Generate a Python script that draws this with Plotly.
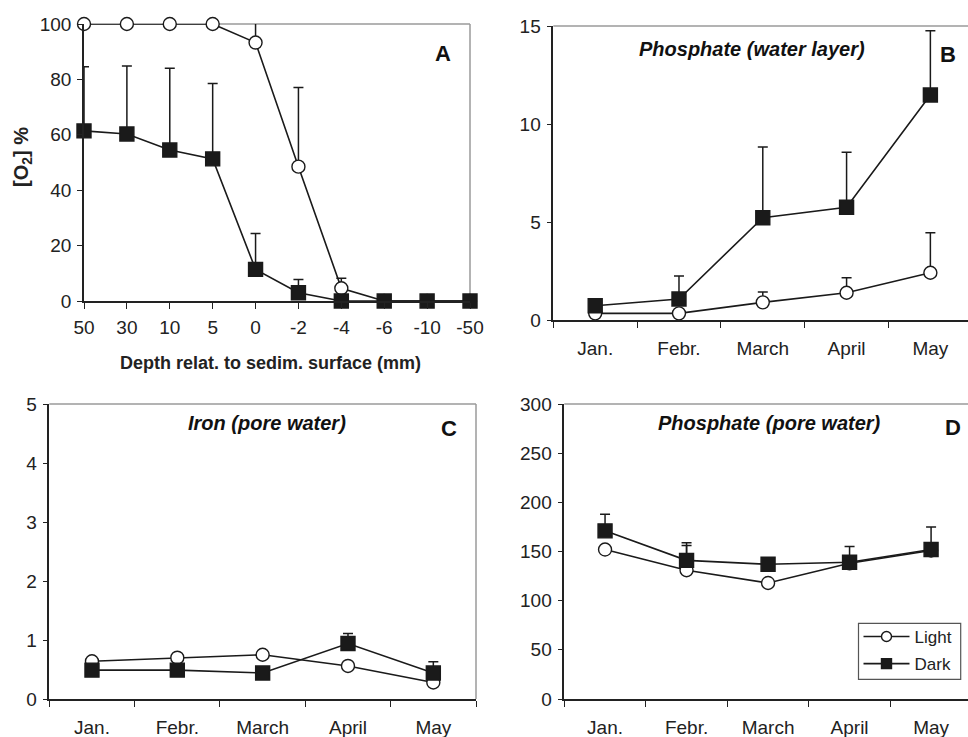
import plotly.graph_objects as go

# ---------------- data ----------------
depth = ["50", "30", "10", "5", "0", "-2", "-4", "-6", "-10", "-50"]
o2_light = [100, 100, 100, 100, 93.3, 48.5, 4.6, 0, 0, 0]
o2_light_err = [0, 0, 0, 0, 9.6, 28.6, 3.6, 0, 0, 0]
o2_dark = [61.4, 60.3, 54.5, 51.3, 11.4, 3.0, 0, 0, 0, 0]
o2_dark_err = [23.2, 24.5, 29.5, 27.2, 13.0, 4.8, 0, 0, 0, 0]

months = ["Jan.", "Febr.", "March", "April", "May"]
po4w_light = [0.34, 0.34, 0.90, 1.39, 2.41]
po4w_light_err = [0, 0, 0.53, 0.77, 2.04]
po4w_dark = [0.73, 1.07, 5.22, 5.75, 11.48]
po4w_dark_err = [0, 1.17, 3.61, 2.81, 3.28]

fe_light = [0.64, 0.70, 0.75, 0.56, 0.28]
fe_light_err = [0, 0, 0, 0, 0]
fe_dark = [0.49, 0.49, 0.44, 0.94, 0.44]
fe_dark_err = [0, 0, 0, 0.17, 0.19]

po4p_light = [152, 131, 118, 138, 151]
po4p_light_err = [0, 25, 0, 0, 0]
po4p_dark = [171, 141, 137, 139, 152]
po4p_dark_err = [17, 18, 0, 16, 23]

FONT = "Liberation Sans, Arial, sans-serif"
W, H = 968, 737
INK = "#1a1a1a"

fig = go.Figure()


def add_pair(xs, light, light_err, dark, dark_err, xa, ya):
    for vals, errs, sym, fill in [(light, light_err, "circle", "white"),
                                  (dark, dark_err, "square", INK)]:
        fig.add_trace(go.Scatter(
            x=xs, y=vals, mode="lines+markers", xaxis=xa, yaxis=ya,
            showlegend=False, cliponaxis=False,
            line=dict(color=INK, width=1.6),
            marker=dict(symbol=sym, size=13 if sym == "circle" else 14,
                        color=fill, line=dict(color=INK, width=1.4)),
            error_y=dict(type="data", symmetric=False, array=errs,
                         arrayminus=[0] * len(errs), color=INK,
                         thickness=1.5, width=5),
        ))


add_pair(depth, o2_light, o2_light_err, o2_dark, o2_dark_err, "x", "y")
add_pair(months, po4w_light, po4w_light_err, po4w_dark, po4w_dark_err, "x2", "y2")
add_pair(months, fe_light, fe_light_err, fe_dark, fe_dark_err, "x3", "y3")
add_pair(months, po4p_light, po4p_light_err, po4p_dark, po4p_dark_err, "x4", "y4")

# legend-only traces
for name, sym, fill in [("Light", "circle", "white"), ("Dark", "square", INK)]:
    fig.add_trace(go.Scatter(
        x=[None], y=[None], mode="lines+markers", name=name, xaxis="x4", yaxis="y4",
        legendgroup=name,
        line=dict(color=INK, width=1.6),
        marker=dict(symbol=sym, size=10, color=fill, line=dict(color=INK, width=1.4)),
    ))


def px_x(p):
    return p / W


def px_y(p):
    return 1 - p / H


tickfont = dict(family=FONT, size=19, color="#222222")
common_x = dict(type="category", showline=True, linecolor="#222222", linewidth=1.5,
                ticks="outside", ticklen=6, tickcolor="#222222", tickwidth=1.2,
                showgrid=False, zeroline=False, tickfont=tickfont, fixedrange=True,
                automargin=False)
common_y = dict(showline=True, linecolor="#222222", linewidth=1.5,
                ticks="outside", ticklen=5, tickcolor="#222222", tickwidth=1.2,
                showgrid=False, zeroline=False, tickfont=tickfont, fixedrange=True,
                ticklabelstandoff=2, automargin=False)

fig.update_layout(
    template="none",
    width=W, height=H, margin=dict(l=0, r=0, t=0, b=0, pad=0, autoexpand=False),
    plot_bgcolor="white", paper_bgcolor="white",
    font=dict(family=FONT, size=16, color="#222222"),
    xaxis=dict(common_x, domain=[px_x(84), px_x(470)], range=[0, 9], anchor="y",
               categoryorder="array", categoryarray=depth, ticklabelstandoff=2),
    yaxis=dict(common_y, domain=[px_y(301), px_y(24)], range=[0, 100], dtick=20, anchor="x"),
    xaxis2=dict(common_x, domain=[px_x(553.3), 1.0], range=[-0.5, 4.449], anchor="y2",
                tickson="boundaries", categoryorder="array", categoryarray=months,
                ticklabelstandoff=10),
    yaxis2=dict(common_y, domain=[px_y(320), px_y(26)], range=[0, 15], dtick=5, anchor="x2"),
    xaxis3=dict(common_x, domain=[px_x(49.3), px_x(476)], range=[-0.5, 4.5], anchor="y3",
                tickson="boundaries", categoryorder="array", categoryarray=months,
                ticklabelstandoff=10),
    yaxis3=dict(common_y, domain=[px_y(699), px_y(404)], range=[0, 5], dtick=1, anchor="x3"),
    xaxis4=dict(common_x, domain=[px_x(564.3), 1.0], range=[-0.5, 4.453], anchor="y4",
                tickson="boundaries", categoryorder="array", categoryarray=months,
                ticklabelstandoff=10),
    yaxis4=dict(common_y, domain=[px_y(699), px_y(404)], range=[0, 300], dtick=50, anchor="x4"),
    legend=dict(x=px_x(858.5), y=px_y(619), xanchor="left", yanchor="top",
                borderwidth=0, bgcolor="rgba(0,0,0,0)",
                font=dict(family=FONT, size=17, color="#222222"),
                tracegroupgap=2, itemwidth=46),
    hovermode=False,
)

# gray frame (top & right)
for xa, ya, right in [("x", "y", True), ("x2", "y2", False), ("x3", "y3", True), ("x4", "y4", False)]:
    fig.add_shape(type="line", xref=f"{xa} domain", yref=f"{ya} domain",
                  x0=0, x1=1, y0=1, y1=1, line=dict(color="#9a9a9a", width=1.5), layer="below")
    if right:
        fig.add_shape(type="line", xref=f"{xa} domain", yref=f"{ya} domain",
                      x0=1, x1=1, y0=0, y1=1, line=dict(color="#9a9a9a", width=1.5), layer="below")

# legend frame
fig.add_shape(type="rect", xref="paper", yref="paper",
              x0=px_x(858.5), x1=px_x(960.7), y0=px_y(679.3), y1=px_y(623.3),
              line=dict(color="#555555", width=1.2), fillcolor="white", layer="below")

ann = []
# panel letters
for txt, x, y in [("A", 443.3, 53.3), ("B", 947.7, 54.3), ("C", 449, 428), ("D", 952.7, 427.3)]:
    ann.append(dict(text=f"<b>{txt}</b>", x=px_x(x), y=px_y(y), xref="paper", yref="paper",
                    xanchor="center", yanchor="middle",
                    showarrow=False, font=dict(family=FONT, size=22, color="#111111")))
# panel titles
for txt, x, y in [("Phosphate (water layer)", 751.7, 49.3),
                  ("Iron (pore water)", 266.7, 423.3),
                  ("Phosphate (pore water)", 769.3, 423.3)]:
    ann.append(dict(text=f"<b><i>{txt}</i></b>", x=px_x(x), y=px_y(y), xref="paper", yref="paper",
                    xanchor="center", yanchor="middle",
                    showarrow=False, font=dict(family=FONT, size=20, color="#111111")))
# axis titles of panel A
ann.append(dict(text="<b>Depth relat. to sedim. surface (mm)</b>", x=px_x(270), y=px_y(363),
                xref="paper", yref="paper", showarrow=False, xanchor="center", yanchor="middle",
                font=dict(family=FONT, size=18, color="#222222")))
ann.append(dict(text="<b>[O<sub>2</sub>] %</b>", x=px_x(22), y=px_y(157), textangle=-90,
                xref="paper", yref="paper", showarrow=False, xanchor="center", yanchor="middle",
                font=dict(family=FONT, size=20, color="#222222")))
fig.update_layout(annotations=ann)

fig.write_html("out.html")
